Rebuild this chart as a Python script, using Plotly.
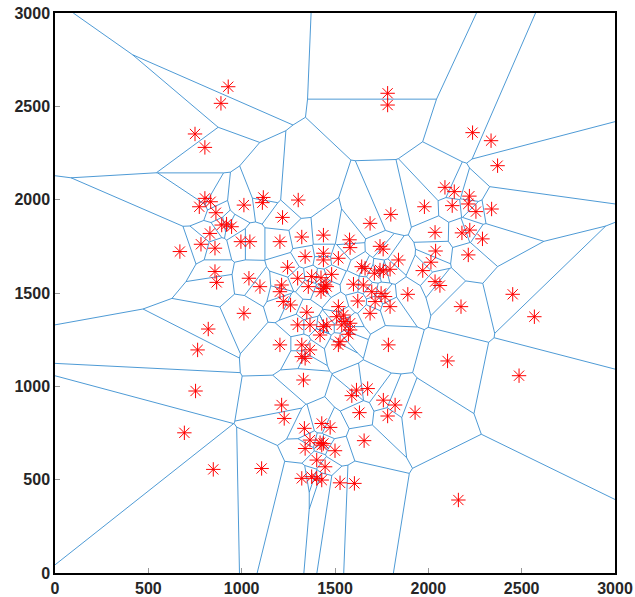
import numpy as np
import plotly.graph_objects as go

# site coordinates
px = [928, 889, 750, 803, 803, 834, 773, 862, 1012, 1116, 1111, 1303, 1219, 893, 919, 946, 830,
      1782, 1782, 1979, 1799, 1688, 1438, 1322, 1578, 2237, 2336, 2371, 2089, 2139, 2220, 2128,
      2214, 2255, 2339, 2036, 2180, 2222, 2290, 2039, 2214, 2014, 1970, 2036, 2062, 2452, 2175,
      2568, 2103, 2486, 2161, 669, 782, 857, 996, 1044, 1205, 1246, 1300, 857, 866, 1039, 1098,
      1214, 1205, 1223, 1262, 1300, 1012, 821, 764, 1205, 753, 1438, 1438, 1741, 1758, 1581,
      1340, 1518, 1840, 1643, 1661, 1741, 1759, 1711, 1795, 1375, 1425, 1482, 1447, 1456, 1438,
      1357, 1425, 1599, 1652, 1697, 1747, 1768, 1715, 1622, 1795, 1890, 1518, 1509, 1545, 1554,
      1581, 1536, 1581, 1572, 1688, 1349, 1456, 1438, 1366, 1420, 1527, 1518, 1322, 1366, 1322,
      1340, 1786, 1331, 1590, 1615, 1675, 1759, 1822, 1929, 1782, 1631, 1656, 1429, 1474, 1336,
      1366, 1420, 1429, 1438, 1340, 1500, 1402, 1447, 1322, 1375, 1402, 1429, 1527, 1604, 1214,
      1228, 693, 848, 1107]
py = [2605, 2516, 2352, 2280, 2007, 1989, 1962, 1930, 1971, 2012, 1984, 1998, 1905, 1864, 1869, 1855, 1819,
      2570, 2507, 1962, 1921, 1873, 1810, 1800, 1785, 2359, 2316, 2182, 2066, 2043, 2019, 1968,
      1977, 1936, 1950, 1825, 1822, 1837, 1790, 1725, 1704, 1665, 1620, 1561, 1540, 1493, 1427,
      1373, 1136, 1057, 391, 1722, 1761, 1740, 1775, 1775, 1775, 1638, 1579, 1615, 1557, 1579, 1534,
      1543, 1507, 1454, 1436, 1329, 1391, 1307, 1195, 1222, 975, 1713, 1677, 1750, 1735, 1743,
      1695, 1686, 1677, 1641, 1632, 1623, 1618, 1606, 1627, 1588, 1582, 1600, 1543, 1534, 1525,
      1534, 1507, 1547, 1543, 1507, 1498, 1481, 1454, 1457, 1427, 1493, 1427, 1373, 1382, 1347,
      1338, 1329, 1302, 1279, 1391, 1397, 1329, 1320, 1329, 1275, 1239, 1222, 1222, 1195, 1159,
      1150, 1222, 1034, 950, 980, 988, 926, 900, 859, 841, 859, 709, 801, 780, 775,
      712, 698, 685, 694, 667, 655, 605, 569, 507, 516, 507, 498, 483, 480, 900,
      828, 751, 555, 560]

x_ticks = [0, 500, 1000, 1500, 2000, 2500, 3000]
y_ticks = [0, 500, 1000, 1500, 2000, 2500, 3000]
LO, HI = 0.0, 3000.0

pts = np.array(list(zip(px, py)), dtype=float)


def clip(poly, n, c):
    # keep points p with n.p <= c
    out = []
    m = len(poly)
    for k in range(m):
        a = poly[k]
        b = poly[(k + 1) % m]
        da = np.dot(n, a) - c
        db = np.dot(n, b) - c
        if da <= 0:
            out.append(a)
        if (da < 0 < db) or (db < 0 < da):
            t = da / (da - db)
            out.append(a + t * (b - a))
    return out


edges = {}
for i, s in enumerate(pts):
    poly = [np.array([LO, LO]), np.array([HI, LO]), np.array([HI, HI]), np.array([LO, HI])]
    for j, q in enumerate(pts):
        if i == j:
            continue
        if np.allclose(s, q):
            continue
        n = q - s
        c = np.dot(n, (s + q) / 2)
        poly = clip(poly, n, c)
        if len(poly) < 3:
            break
    m = len(poly)
    for k in range(m):
        a = poly[k]
        b = poly[(k + 1) % m]
        on_box = False
        for d in range(2):
            for v in (LO, HI):
                if abs(a[d] - v) < 1e-6 and abs(b[d] - v) < 1e-6:
                    on_box = True
        if on_box or np.linalg.norm(a - b) < 1e-6:
            continue
        ka = (round(a[0], 1), round(a[1], 1))
        kb = (round(b[0], 1), round(b[1], 1))
        key = tuple(sorted([ka, kb]))
        edges[key] = (a, b)

ex, ey = [], []
for a, b in edges.values():
    ex += [a[0], b[0], None]
    ey += [a[1], b[1], None]

fig = go.Figure()
fig.add_trace(go.Scatter(x=ex, y=ey, mode="lines",
                         line=dict(color="#3a8fd0", width=0.9), hoverinfo="skip"))
fig.add_trace(go.Scatter(x=px, y=py, mode="markers",
                         marker=dict(symbol="asterisk-open", size=12,
                                     line=dict(color="#ff0000", width=1), color="#ff0000")))

axis_common = dict(range=[0, 3000], showgrid=False, zeroline=False, automargin=False,
                   showline=True, linecolor="black", linewidth=1.5, mirror=True,
                   ticks="inside", ticklen=5, tickcolor="#999999",
                   ticklabeloverflow="allow",
                   tickfont=dict(family="Liberation Sans", size=16, color="#262626"))
fig.update_xaxes(tickvals=x_ticks, ticktext=[f"<b>{v}</b>" for v in x_ticks], **axis_common)
fig.update_yaxes(tickvals=y_ticks, ticktext=[f"<b>{v}</b>" for v in y_ticks], **axis_common)

fig.update_layout(width=635, height=597, showlegend=False,
                  margin=dict(l=55, r=20, t=13, b=24),
                  plot_bgcolor="white", paper_bgcolor="white")
fig.write_html("out.html", config={"displayModeBar": False},
               post_script="document.body.style.margin='0';document.body.style.overflow='hidden';")
